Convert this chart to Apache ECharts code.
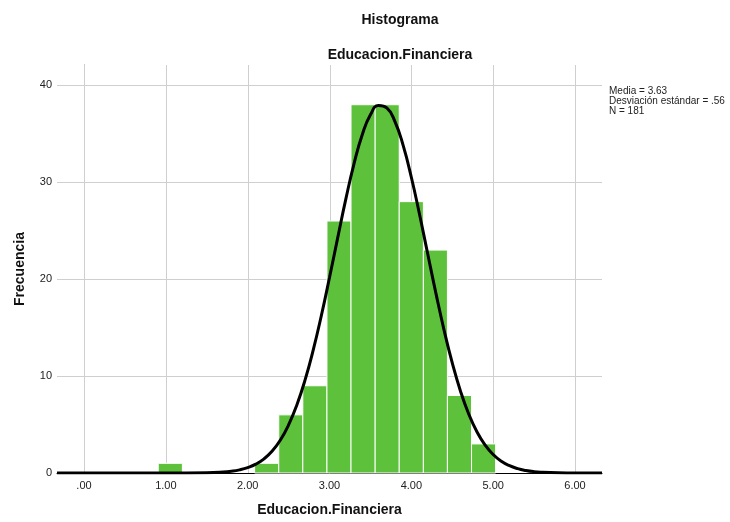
<!DOCTYPE html>
<html>
<head>
<meta charset="utf-8">
<script src="https://cdn.jsdelivr.net/npm/echarts@6/dist/echarts.min.js"></script>
<style>html,body{margin:0;padding:0;background:#fff}#c{width:730px;height:522px}</style>
</head>
<body>
<div id="c"></div>
<script>
// ---- data ----
var binEdges = [0.907, 1.202, 1.496, 1.791, 2.085, 2.380, 2.674, 2.969, 3.263, 3.558, 3.852, 4.147, 4.441, 4.736, 5.030];
var binCounts = [1, 0, 0, 0, 1, 6, 9, 26, 38, 38, 28, 23, 8, 3];
var curveX = [-0.33, 1.0, 1.5, 1.7, 1.8, 1.9, 2.0, 2.1, 2.2, 2.3, 2.4, 2.5, 2.6, 2.7, 2.8, 2.9, 3.0, 3.1, 3.2, 3.3, 3.4, 3.5, 3.6, 3.7, 3.8, 3.9, 4.0, 4.1, 4.2, 4.3, 4.4, 4.5, 4.6, 4.7, 4.8, 4.9, 5.0, 5.1, 5.2, 5.3, 5.4, 5.5, 5.6, 5.8, 6.0, 6.33];
var curveY = [0, 0, 0.03, 0.10, 0.18, 0.32, 0.55, 0.91, 1.46, 2.26, 3.40, 4.96, 7.00, 9.56, 12.66, 16.23, 20.17, 24.26, 28.28, 31.92, 34.90, 36.96, 37.92, 37.67, 36.26, 33.80, 30.52, 26.70, 22.62, 18.56, 14.75, 11.36, 8.47, 6.12, 4.28, 2.90, 1.91, 1.21, 0.75, 0.45, 0.26, 0.14, 0.08, 0.02, 0, 0];
var xTicks = [0, 1, 2, 3, 4, 5, 6];
var yTicks = [10, 20, 30, 40];
var statsLines = ['Media = 3.63', 'Desviación estándar = .56', 'N = 181'];
var chartTitle = 'Histograma';
var chartSubtitle = 'Educacion.Financiera';
var xName = 'Educacion.Financiera';
var yName = 'Frecuencia';

var X_MIN = -0.33, X_MAX = 6.33, Y_MIN = 0, Y_MAX = 42.1;
var FONT = 'Liberation Sans, Arial, sans-serif';

var barData = [];
for (var i = 0; i < binCounts.length; i++) {
  if (binCounts[i] > 0) barData.push([binEdges[i], binEdges[i + 1], binCounts[i]]);
}
var curveData = curveX.map(function (x, i) { return [x, curveY[i]]; });

var chart = echarts.init(document.getElementById('c'), null, {renderer: 'canvas'});
chart.setOption({
  animation: false,
  backgroundColor: '#ffffff',
  textStyle: {fontFamily: FONT},
  title: [
    {text: chartTitle, left: 400, top: 13, padding: 0, textAlign: 'center',
     textStyle: {fontFamily: FONT, fontSize: 14, fontWeight: 'bold', color: '#111'}},
    {text: chartSubtitle, left: 400, top: 48, padding: 0, textAlign: 'center',
     textStyle: {fontFamily: FONT, fontSize: 14, fontWeight: 'bold', color: '#111'}},
    {text: statsLines.join('\n'), left: 609, top: 86, padding: 0,
     textStyle: {fontFamily: FONT, fontSize: 10, fontWeight: 'normal', color: '#222', lineHeight: 10}}
  ],
  grid: {left: 57, right: 128, top: 65, bottom: 46},
  xAxis: {
    type: 'value', min: X_MIN, max: X_MAX,
    name: xName, nameLocation: 'middle', nameGap: 30,
    nameTextStyle: {fontFamily: FONT, fontSize: 14, fontWeight: 'bold', color: '#111'},
    axisLine: {show: true, onZero: false, lineStyle: {color: '#000', width: 1}},
    axisTick: {show: false},
    splitLine: {show: false},
    axisLabel: {showMinLabel: false, showMaxLabel: false, margin: 7, fontSize: 11, color: '#222', fontFamily: FONT,
      formatter: function (v) { return v === 0 ? '.00' : v.toFixed(2); }}
  },
  yAxis: {
    type: 'value', min: Y_MIN, max: Y_MAX,
    name: yName, nameLocation: 'middle', nameGap: 30,
    nameTextStyle: {fontFamily: FONT, fontSize: 14, fontWeight: 'bold', color: '#111'},
    axisLine: {show: true, lineStyle: {color: '#777', width: 1}},
    axisTick: {show: false},
    splitLine: {show: false},
    axisLabel: {showMaxLabel: false, margin: 5, fontSize: 11, color: '#222', fontFamily: FONT}
  },
  series: [
    {
      type: 'custom', z: 1, silent: true,
      data: xTicks.map(function (v) { return [v, 0]; }),
      encode: {x: 0, y: 1},
      renderItem: function (params, api) {
        var v = api.value(0);
        var a = api.coord([v, Y_MIN]), b = api.coord([v, Y_MAX]);
        return {type: 'line', shape: {x1: Math.round(a[0]) + 0.5, y1: a[1], x2: Math.round(b[0]) + 0.5, y2: b[1]},
                style: {stroke: '#cfcfcf', lineWidth: 1}};
      }
    },
    {
      type: 'custom', z: 1, silent: true,
      data: yTicks.map(function (v) { return [0, v]; }),
      encode: {x: 0, y: 1},
      renderItem: function (params, api) {
        var v = api.value(1);
        var a = api.coord([X_MIN, v]), b = api.coord([X_MAX, v]);
        return {type: 'line', shape: {x1: a[0], y1: Math.round(a[1]) + 0.5, x2: b[0], y2: Math.round(b[1]) + 0.5},
                style: {stroke: '#cfcfcf', lineWidth: 1}};
      }
    },
    {
      type: 'custom', z: 2, silent: true,
      data: barData,
      encode: {x: [0, 1], y: 2},
      renderItem: function (params, api) {
        var p0 = api.coord([api.value(0), api.value(2)]);
        var p1 = api.coord([api.value(1), 0]);
        return {type: 'rect', shape: {x: p0[0], y: p0[1], width: p1[0] - p0[0], height: p1[1] - p0[1]},
                style: {fill: '#5ec13b', stroke: '#ffffff', lineWidth: 1}};
      }
    },
    {
      type: 'line', z: 3, silent: true,
      data: curveData,
      smooth: 0.5,
      symbol: 'none',
      lineStyle: {color: '#000', width: 3}
    }
  ]
});
</script>
</body>
</html>
